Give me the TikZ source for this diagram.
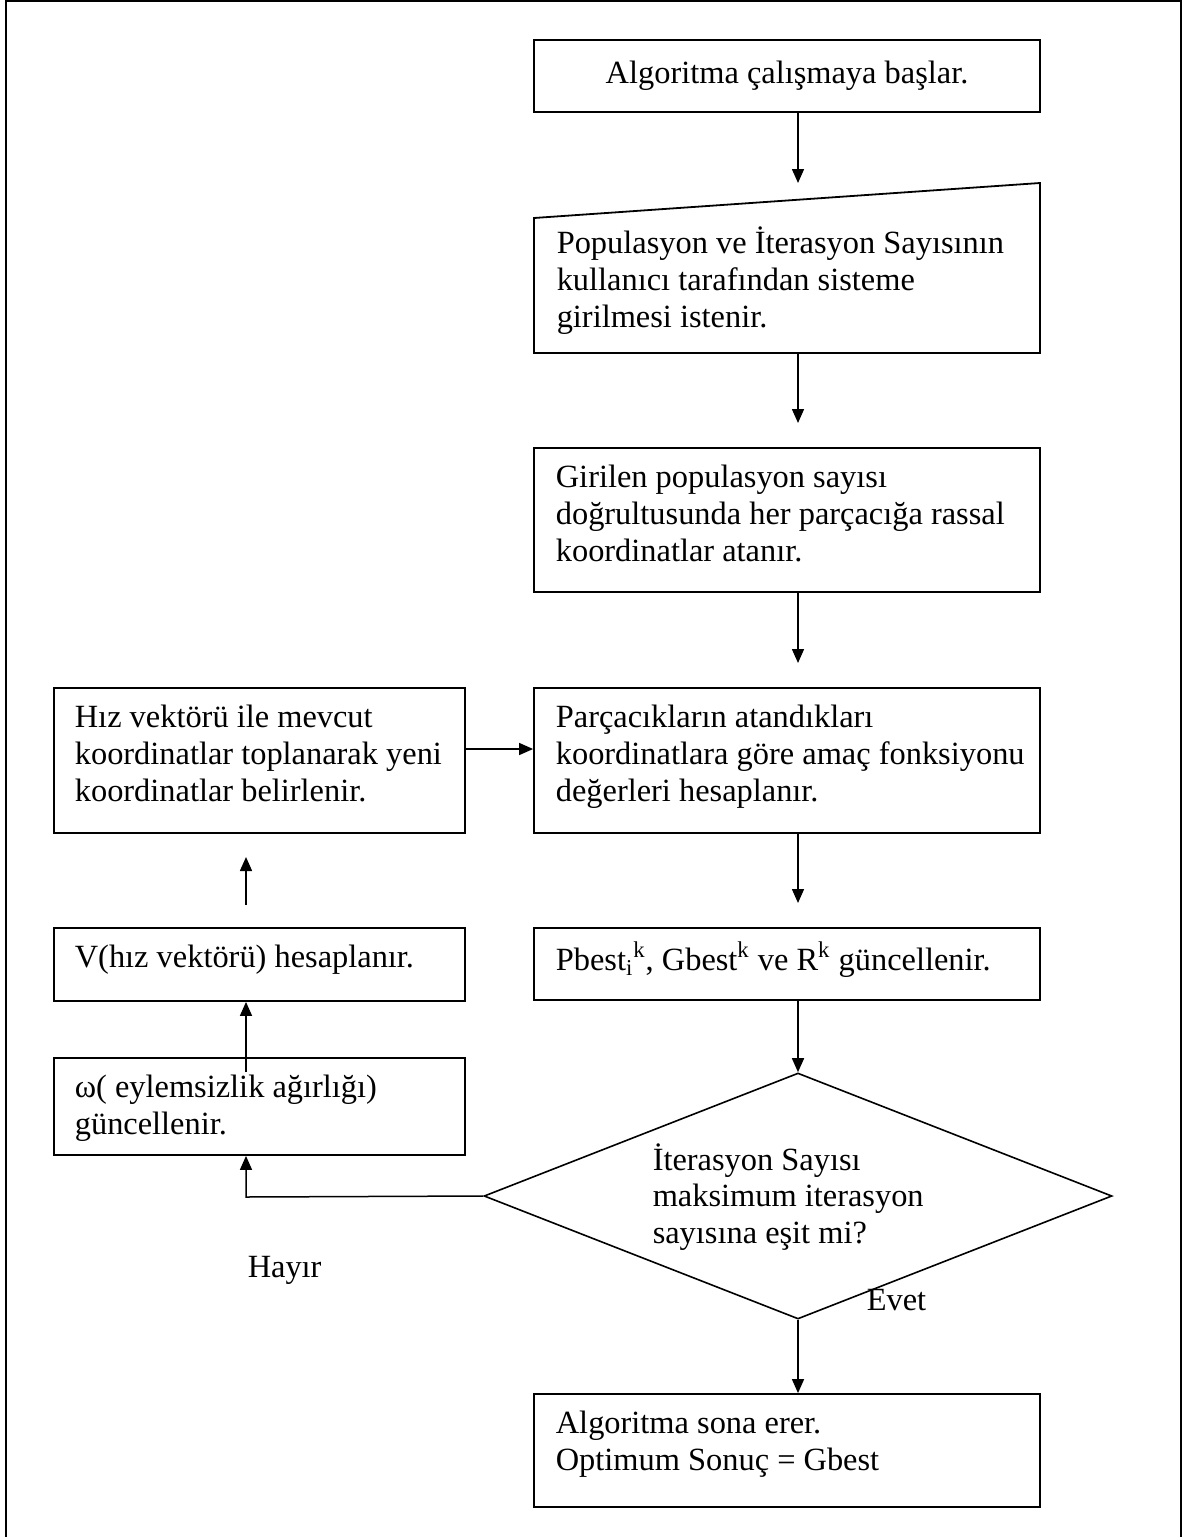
\documentclass[tikz,border=0pt]{standalone}
\usepackage{fontspec}
\setmainfont{Liberation Serif}
\usetikzlibrary{arrows.meta,calc,shapes.geometric}

\tikzset{every picture/.style={line width=0.75pt}}
\tikzset{
  stepbox/.style={draw, line width=0.9pt, rectangle, inner sep=0pt, minimum width=253pt},
  sidebox/.style={draw, line width=0.9pt, rectangle, inner sep=0pt, minimum width=205.5pt},
  steptext/.style={anchor=north west, inner sep=0pt, align=left, font=\fontsize{16.2}{18.4}\selectfont},
  flowarrow/.style={-{Triangle[length=7pt,width=6pt]}, line width=0.75pt},
}

\begin{document}
\begin{tikzpicture}[x=0.5pt,y=0.5pt,yscale=-1,xscale=1]
\useasboundingbox (0,0) rectangle (1182,1537);

%Frame
\draw [line width=0.8pt] (6,1537) -- (6,1) -- (1181,1) -- (1181,1537) ;

%Shapes of the main column
\node [stepbox, minimum height=36pt, font=\fontsize{16.2}{18.4}\selectfont] (start) at (787,76) {Algoritma çalışmaya başlar.};
\draw [line width=0.9pt] (534,218) -- (1040,183) -- (1040,353) -- (534,353) -- cycle ;
\coordinate (inbot) at (798,353);
\node [stepbox, minimum height=72pt] (assign) at (787,520) {};
\node [stepbox, minimum height=72.5pt] (eval) at (787,760.5) {};
\node [stepbox, minimum height=36pt] (update) at (787,964) {};
\node [draw, diamond, line width=0.8pt, inner sep=0pt, minimum width=314pt, minimum height=123pt] (decide) at (798,1196) {};
\node [stepbox, minimum height=56.5pt] (finish) at (787,1450.5) {};

%Shapes of the side column
\node [sidebox, minimum height=72.5pt] (newpos) at (259.5,760.5) {};
\node [sidebox, minimum height=36.5pt] (velocity) at (259.5,964.5) {};
\node [sidebox, minimum height=48.5pt] (inertia) at (259.5,1106.5) {};

% Text Node
\node [steptext] (inputtxt) at (556,226) {\strut Populasyon ve İterasyon Sayısının\\kullanıcı tarafından sisteme\\girilmesi istenir.};
% Text Node
\node [steptext] (assigntxt) at ([xshift=11pt,yshift=7.1pt]assign.north west) {\strut Girilen populasyon sayısı\\doğrultusunda her parçacığa rassal\\koordinatlar atanır.};
% Text Node
\node [steptext] (evaltxt) at ([xshift=11pt,yshift=7.1pt]eval.north west) {\strut Parçacıkların atandıkları\\koordinatlara göre amaç fonksiyonu\\değerleri hesaplanır.};
% Text Node
\node [steptext] (updatetxt) at ([xshift=11pt,yshift=7.1pt]update.north west) {\strut Pbest\textsubscript{i}\textsuperscript{k}, Gbest\textsuperscript{k} ve R\textsuperscript{k} güncellenir.};
% Text Node
\node [steptext, anchor=west] (decidetxt) at (652,1197) {\strut İterasyon Sayısı\\maksimum iterasyon\\sayısına eşit mi?};
% Text Node
\node [steptext] (finishtxt) at ([xshift=11pt,yshift=7.1pt]finish.north west) {\strut Algoritma sona erer.\\Optimum Sonuç = Gbest};
% Text Node
\node [steptext] (newpostxt) at ([xshift=10.5pt,yshift=7.1pt]newpos.north west) {\strut Hız vektörü ile mevcut\\koordinatlar toplanarak yeni\\koordinatlar belirlenir.};
% Text Node
\node [steptext] (velocitytxt) at ([xshift=10.5pt,yshift=7.1pt]velocity.north west) {\strut V(hız vektörü) hesaplanır.};
% Text Node
\node [steptext] (inertiatxt) at ([xshift=10.5pt,yshift=7.1pt]inertia.north west) {\strut ω( eylemsizlik ağırlığı)\\güncellenir.};
% Text Node
\node [steptext, anchor=west] (no) at (247,1270) {Hayır};
% Text Node
\node [steptext, anchor=west] (yes) at (866,1300) {Evet};

%Straight Lines
\coordinate (tipA) at (798,183);
\coordinate (tipB) at (798,423);
\coordinate (tipC) at (798,663);
\coordinate (tipD) at (798,903);
\draw [flowarrow] (start.south -| tipA) -- (tipA) ;
\draw [flowarrow] (inbot) -- (tipB) ;
\draw [flowarrow] (assign.south -| tipC) -- (tipC) ;
\draw [flowarrow] (eval.south -| tipD) -- (tipD) ;
\draw [flowarrow] (update.south -| decide.north) -- (decide.north) ;
\draw [flowarrow] (decide.south) -- (finish.north -| decide.south) ;
%Straight Lines
\coordinate (backx) at (246,1197);
\coordinate (velup) at (246,905);
\coordinate (tipE) at (246,857);
\coordinate (sidey) at (0,749);
\draw [flowarrow] (decide.west) -- (backx) -- (backx |- inertia.south) ;
\draw [flowarrow] ($(inertia.north -| backx)+(0,15)$) -- (velocity.south -| backx) ;
\draw [flowarrow] (velup) -- (tipE) ;
\draw [flowarrow] (newpos.east |- sidey) -- (eval.west |- sidey) ;

\end{tikzpicture}
\end{document}
